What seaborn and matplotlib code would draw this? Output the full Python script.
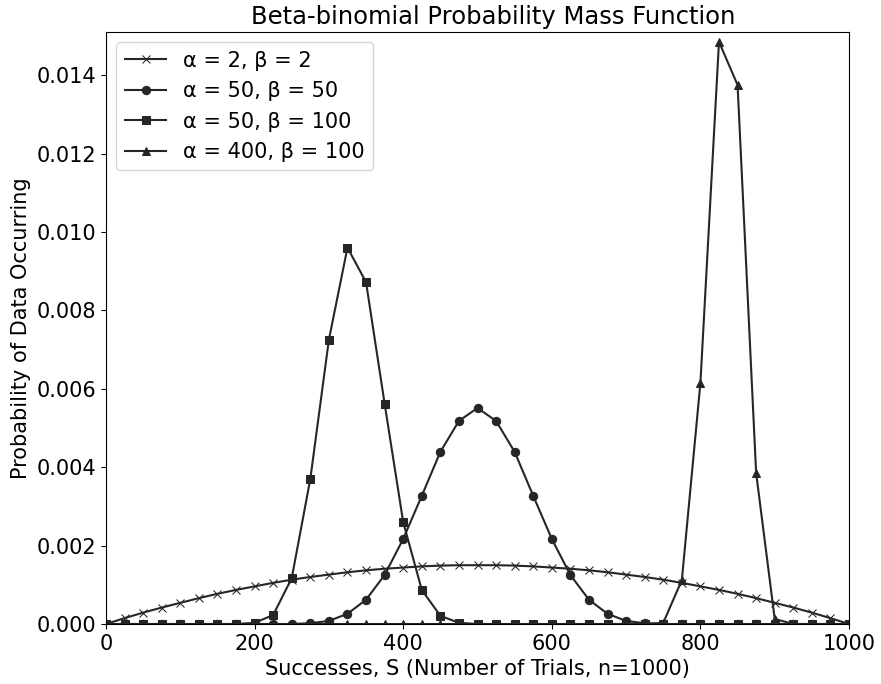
import numpy as np
import pandas as pd
import matplotlib
matplotlib.use("Agg")
import matplotlib.pyplot as plt
import seaborn as sns

# Successes (x positions)
successes = list(range(0, 1001, 25))

# Probability values (units of 1e-3)
pmf_a2_b2 = [0, 0.15, 0.29, 0.42, 0.54, 0.66, 0.77, 0.87, 0.96, 1.05, 1.13,
             1.20, 1.26, 1.32, 1.37, 1.41, 1.44, 1.47, 1.49, 1.50, 1.50,
             1.50, 1.49, 1.47, 1.44, 1.41, 1.37, 1.32, 1.26, 1.20, 1.13,
             1.05, 0.96, 0.87, 0.77, 0.66, 0.54, 0.42, 0.29, 0.15, 0]
pmf_a50_b50 = [0, 0, 0, 0, 0, 0, 0, 0, 0, 0, 0,
               0.02, 0.08, 0.26, 0.62, 1.25, 2.17, 3.27, 4.39, 5.18, 5.51,
               5.18, 4.39, 3.27, 2.17, 1.25, 0.62, 0.26, 0.08, 0.02, 0,
               0, 0, 0, 0, 0, 0, 0, 0, 0, 0]
pmf_a50_b100 = [0, 0, 0, 0, 0, 0, 0, 0, 0.03, 0.23, 1.17,
                3.70, 7.25, 9.60, 8.72, 5.62, 2.60, 0.87, 0.21, 0.03, 0,
                0, 0, 0, 0, 0, 0, 0, 0, 0, 0,
                0, 0, 0, 0, 0, 0, 0, 0, 0, 0]
pmf_a400_b100 = [0, 0, 0, 0, 0, 0, 0, 0, 0, 0, 0,
                 0, 0, 0, 0, 0, 0, 0, 0, 0, 0,
                 0, 0, 0, 0, 0, 0, 0, 0, 0, 0.03,
                 1.12, 6.15, 14.85, 13.75, 3.85, 0.13, 0, 0, 0, 0]

labels = ["α = 2, β = 2", "α = 50, β = 50", "α = 50, β = 100", "α = 400, β = 100"]
series = [pmf_a2_b2, pmf_a50_b50, pmf_a50_b100, pmf_a400_b100]
markers = ["x", "o", "s", "^"]

plt.rcParams['font.family'] = ['DejaVu Sans']
fig = plt.figure(figsize=(8.81, 6.84), dpi=100)
ax = fig.add_axes([0.1203, 0.0877, 0.9637 - 0.1203, 0.9532 - 0.0877])

color = "#262626"
for lab, vals, mk in zip(labels, series, markers):
    df = pd.DataFrame({"S": successes, "P": np.array(vals) * 1e-3})
    sns.lineplot(data=df, x="S", y="P", marker=mk, color=color, label=lab,
                 ax=ax, linewidth=1.5, markersize=6,
                 markeredgecolor=color, markerfacecolor=color)

ax.set_xlim(0, 1000)
ax.set_ylim(0, 0.0151)
ax.set_yticks([0, 0.002, 0.004, 0.006, 0.008, 0.010, 0.012, 0.014])
ax.yaxis.set_major_formatter(matplotlib.ticker.FormatStrFormatter('%.3f'))
ax.tick_params(labelsize=15)
ax.set_xlabel("Successes, S (Number of Trials, n=1000)", fontsize=15)
ax.set_ylabel("Probability of Data Occurring", fontsize=15)
ax.set_title("Beta-binomial Probability Mass Function", fontsize=17.5, x=0.521)
ax.legend(loc="upper left", fontsize=15)

fig.savefig("out.png", dpi=100)
